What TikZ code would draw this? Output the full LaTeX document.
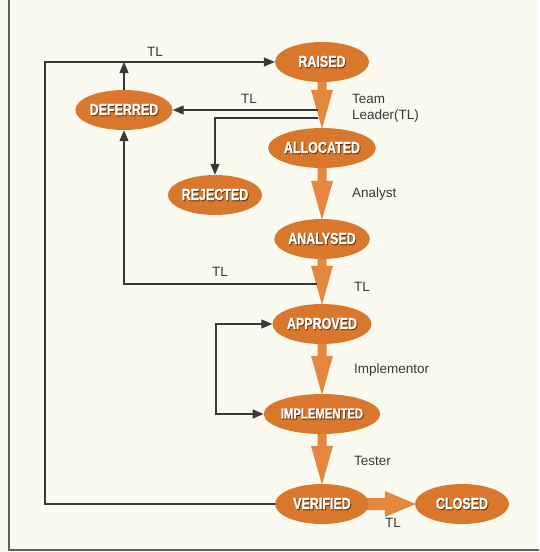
\documentclass[tikz,border=0pt]{standalone}
\usepackage{fontspec}
\setmainfont{Liberation Sans}
\newfontfamily\heavyfont{Liberation Sans Bold}[FakeBold=1.2]
\usetikzlibrary{arrows.meta,calc,backgrounds,shapes.geometric}
\definecolor{bgc}{HTML}{FBFAF1}
\definecolor{ell}{HTML}{D9782D}
\definecolor{flowc}{HTML}{E6873F}
\definecolor{linec}{HTML}{383838}
\definecolor{shc}{HTML}{5A2A0A}
\newcommand\etxt[1]{\scalebox{0.78}[1]{\rlap{\kern1pt\raisebox{-1pt}{\color{shc}#1}}\color{white}#1}}
\newcommand\vflow[2]{%
  \path (#1.south) coordinate (fs) (#2.north) coordinate (fe);
  \fill[flow] ($(fs)+(-4.5,-4)$) -- ($(fe)+(-4.5,-38)$) -- ($(fe)+(-11,-38)$) -- ($(fe)+(0,1)$)
    -- ($(fe)+(11,-38)$) -- ($(fe)+(4.5,-38)$) -- ($(fs)+(4.5,-4)$) -- cycle;}
\tikzset{
  state/.style={ellipse, fill=ell, minimum width=94pt, minimum height=40pt, inner sep=0pt,
    font=\heavyfont\fontsize{16}{16}\selectfont},
  conn/.style={draw=linec, line width=1.3pt},
  tip/.style={-{Triangle[length=11pt,width=9pt]}},
  lbl/.style={text=linec, font=\fontsize{13.5}{16}\selectfont, inner sep=0pt},
  flow/.style={fill=flowc}
}
\begin{document}
\begin{tikzpicture}[x=1pt,y=-1pt]
\useasboundingbox (0,0) rectangle (539,552);
\begin{scope}[on background layer]
  \fill[bgc] (0,0) rectangle (539,552);
\end{scope}
% frame
\draw[linec!80, line width=1.5pt] (9,0) -- (9,550) -- (539,550);

% states
\node[state] (raised) at (322,62) {\etxt{RAISED}};
\node[state] (deferred) at (124,110) {\etxt{DEFERRED}};
\node[state] (allocated) at (322,148) {\etxt{ALLOCATED}};
\node[state] (rejected) at (215,195) {\etxt{REJECTED}};
\node[state] (analysed) at (322,239) {\etxt{ANALYSED}};
\node[state] (approved) at (322,324) {\etxt{APPROVED}};
\node[state, font=\heavyfont\fontsize{14.5}{15}\selectfont] (implemented) at (322,414) {\etxt{IMPLEMENTED}};
\node[state] (verified) at (322,504) {\etxt{VERIFIED}};
\node[state] (closed) at (462,504) {\etxt{CLOSED}};

% flow arrows (behind states)
\begin{scope}[on background layer]
  \vflow{raised}{allocated}
  \vflow{allocated}{analysed}
  \vflow{analysed}{approved}
  \vflow{approved}{implemented}
  \vflow{implemented}{verified}
  \path (verified.east) coordinate (hs) (closed.west) coordinate (he);
  \fill[flow] ($(hs)+(-4,-6)$) -- ($(he)+(-30,-6)$) -- ($(he)+(-30,-13)$) -- ($(he)+(1,0)$)
    -- ($(he)+(-30,13)$) -- ($(he)+(-30,6)$) -- ($(hs)+(-4,6)$) -- cycle;
\end{scope}

% helper coordinates
\coordinate (cL) at (45,0);
\coordinate (lp) at (216,0);
\coordinate (t1) at (318,110);
\coordinate (t2) at (318,118);
\coordinate (t3) at (317,284);

% connectors
\draw[conn, tip] (verified.west) -- (verified.west -| cL) -- (raised.west -| cL) -- (raised.west);
\draw[conn, tip] (deferred.north) -- (deferred.north |- raised.west);
\draw[conn, tip] (t1) -- (deferred.east |- t1);
\draw[conn, tip] (t2) -| (rejected.north);
\draw[conn, tip] (t3) -| (deferred.south);
\draw[conn, {Triangle[length=11pt,width=9pt]}-{Triangle[length=11pt,width=9pt]}]
  (approved.west) -- (approved.west -| lp) -- (implemented.west -| lp) -- (implemented.west);

% labels
\node[lbl] (l1) at (155,52) {TL};
\node[lbl] (l2) at (249,99) {TL};
\node[lbl, anchor=west, align=left] (l3) at (352,108) {Team\\Leader(TL)};
\node[lbl, anchor=west] (l4) at (352,194) {Analyst};
\node[lbl] (l5) at (220,272) {TL};
\node[lbl, anchor=west] (l6) at (354,287) {TL};
\node[lbl, anchor=west] (l7) at (354,370) {Implementor};
\node[lbl, anchor=west] (l8) at (354,461) {Tester};
\node[lbl] (l9) at (393,523) {TL};
\end{tikzpicture}
\end{document}
